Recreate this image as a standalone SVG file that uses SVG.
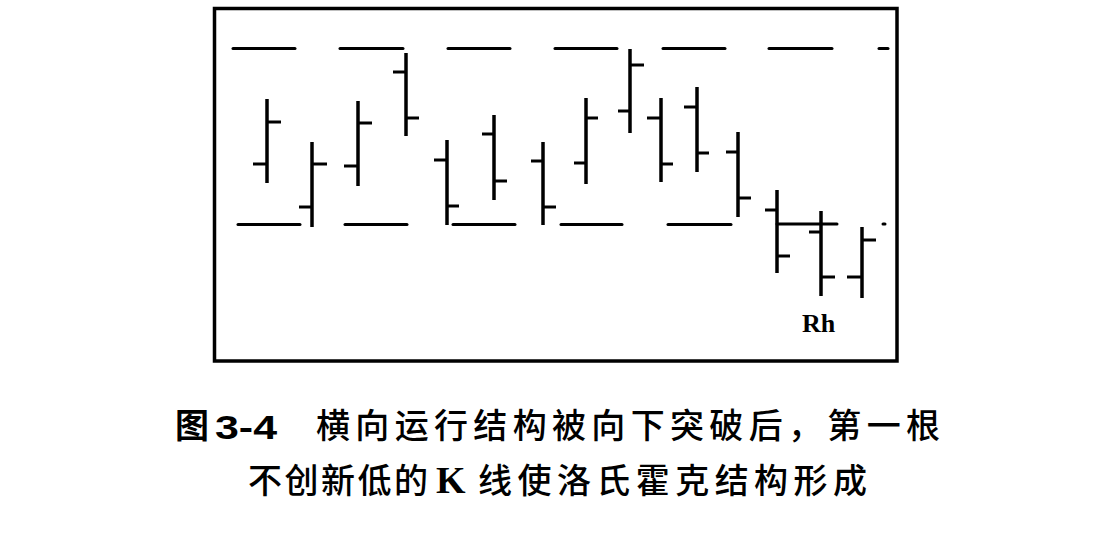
<svg xmlns="http://www.w3.org/2000/svg" width="1120" height="539" viewBox="0 0 1120 539">
<style>
.bg{fill:#ffffff}
.frame{fill:none;stroke:#000;stroke-width:3.5}
.v{stroke:#000;stroke-width:3.5;stroke-linecap:butt}
.t{stroke:#000;stroke-width:3;stroke-linecap:butt}
.lv{stroke:#000;stroke-width:3;stroke-linecap:round}
.cap{font-family:"Noto Sans CJK SC",sans-serif;font-size:34px;font-weight:500;fill:#000}
.capb{font-family:"Noto Sans CJK SC",sans-serif;font-size:34px;font-weight:700;fill:#000}
.num{font-family:"Liberation Sans",Arial,sans-serif;font-size:34px;font-weight:700;fill:#000}
.ser{font-family:"Liberation Serif","Times New Roman",serif;font-weight:700;fill:#000}
</style>
<rect class="bg" x="0" y="0" width="1120" height="539"/>
<g id="frame"><rect class="frame" x="214.5" y="8.5" width="682.5" height="352.5"/></g>
<g id="levels">
<line class="lv" x1="233" y1="48.5" x2="295" y2="48.5"/>
<line class="lv" x1="340" y1="48.5" x2="403" y2="48.5"/>
<line class="lv" x1="448" y1="48.5" x2="510" y2="48.5"/>
<line class="lv" x1="555" y1="48.5" x2="617" y2="48.5"/>
<line class="lv" x1="663" y1="48.5" x2="725" y2="48.5"/>
<line class="lv" x1="769" y1="48.5" x2="832" y2="48.5"/>
<line class="lv" x1="879" y1="48.5" x2="888" y2="48.5"/>
<line class="lv" x1="238" y1="224.5" x2="300" y2="224.5"/>
<line class="lv" x1="345" y1="224.5" x2="407" y2="224.5"/>
<line class="lv" x1="453" y1="224.5" x2="515" y2="224.5"/>
<line class="lv" x1="561" y1="224.5" x2="622" y2="224.5"/>
<line class="lv" x1="668" y1="224.5" x2="731" y2="224.5"/>
<line class="lv" x1="777" y1="224" x2="837" y2="224"/>
<line class="lv" x1="883" y1="224" x2="885" y2="224"/>
</g>
<g id="bar1"><line class="v" x1="267" y1="99" x2="267" y2="183"/><line class="t" x1="253" y1="164" x2="267" y2="164"/><line class="t" x1="267" y1="122" x2="281" y2="122"/></g>
<g id="bar2"><line class="v" x1="312" y1="142" x2="312" y2="227"/><line class="t" x1="299" y1="207" x2="312" y2="207"/><line class="t" x1="312" y1="164" x2="327" y2="164"/></g>
<g id="bar3"><line class="v" x1="358" y1="101" x2="358" y2="186"/><line class="t" x1="344" y1="166" x2="358" y2="166"/><line class="t" x1="358" y1="123" x2="372" y2="123"/></g>
<g id="bar4"><line class="v" x1="406" y1="53" x2="406" y2="136"/><line class="t" x1="393" y1="72" x2="406" y2="72"/><line class="t" x1="406" y1="118" x2="419" y2="118"/></g>
<g id="bar5"><line class="v" x1="447" y1="140" x2="447" y2="225"/><line class="t" x1="434" y1="160" x2="447" y2="160"/><line class="t" x1="447" y1="206" x2="459" y2="206"/></g>
<g id="bar6"><line class="v" x1="494" y1="115" x2="494" y2="200"/><line class="t" x1="482" y1="134" x2="494" y2="134"/><line class="t" x1="494" y1="181" x2="507" y2="181"/></g>
<g id="bar7"><line class="v" x1="543" y1="142" x2="543" y2="225"/><line class="t" x1="531" y1="161" x2="543" y2="161"/><line class="t" x1="543" y1="207" x2="556" y2="207"/></g>
<g id="bar8"><line class="v" x1="586" y1="98" x2="586" y2="184"/><line class="t" x1="574" y1="163" x2="586" y2="163"/><line class="t" x1="586" y1="118" x2="598" y2="118"/></g>
<g id="bar9"><line class="v" x1="630" y1="49" x2="630" y2="133"/><line class="t" x1="618" y1="111" x2="630" y2="111"/><line class="t" x1="630" y1="65" x2="644" y2="65"/></g>
<g id="bar10"><line class="v" x1="661" y1="98" x2="661" y2="182"/><line class="t" x1="647" y1="118" x2="661" y2="118"/><line class="t" x1="661" y1="164" x2="673" y2="164"/></g>
<g id="bar11"><line class="v" x1="697" y1="87" x2="697" y2="172"/><line class="t" x1="684" y1="107" x2="697" y2="107"/><line class="t" x1="697" y1="153" x2="709" y2="153"/></g>
<g id="bar12"><line class="v" x1="738" y1="132" x2="738" y2="217"/><line class="t" x1="726" y1="152" x2="738" y2="152"/><line class="t" x1="738" y1="198" x2="751" y2="198"/></g>
<g id="bar13"><line class="v" x1="777" y1="190" x2="777" y2="273"/><line class="t" x1="765" y1="210" x2="777" y2="210"/><line class="t" x1="777" y1="256" x2="790" y2="256"/></g>
<g id="bar14"><line class="v" x1="821" y1="211" x2="821" y2="296"/><line class="t" x1="809" y1="232" x2="821" y2="232"/><line class="t" x1="821" y1="277" x2="835" y2="277"/></g>
<g id="bar15"><line class="v" x1="862" y1="227" x2="862" y2="298"/><line class="t" x1="847" y1="277" x2="862" y2="277"/><line class="t" x1="862" y1="240" x2="876" y2="240"/></g>
<g id="label-rh"><text class="ser" x="802" y="332" font-size="26">Rh</text></g>
<g id="caption">
<text class="capb" x="175" y="438">图</text>
<text class="num" x="215" y="439" textLength="62" lengthAdjust="spacingAndGlyphs">3-4</text>
<text class="cap" x="316" y="438" textLength="624" lengthAdjust="spacing">横向运行结构被向下突破后，第一根</text>
<text class="cap" x="248" y="493" textLength="180" lengthAdjust="spacing">不创新低的</text>
<text class="ser" x="436" y="493" font-size="38">K</text>
<text class="cap" x="478" y="493" textLength="389" lengthAdjust="spacing">线使洛氏霍克结构形成</text>
</g>
</svg>
